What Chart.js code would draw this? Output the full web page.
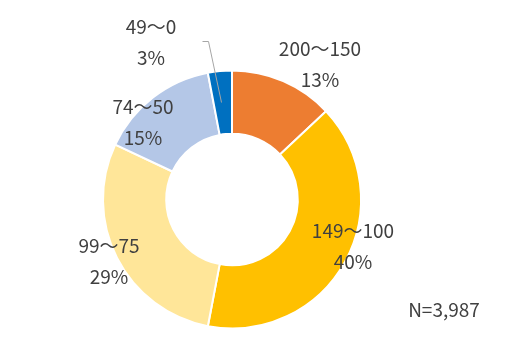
<!DOCTYPE html>
<html>
<head>
<meta charset="utf-8">
<script src="https://cdn.jsdelivr.net/npm/chart.js@4/dist/chart.umd.min.js"></script>
<style>
  html, body { margin: 0; padding: 0; background: #ffffff; }
  #wrap { width: 509px; height: 345px; position: relative; }
</style>
</head>
<body>
<div id="wrap"><canvas id="c" width="509" height="345"></canvas></div>
<script>
// Score bands and their share of respondents (%)
const categories = ['200～150', '149～100', '99～75', '74～50', '49～0'];
const shares = [13, 40, 29, 15, 3];
const sliceColors = ['#ED7D31', '#FFC000', '#FFE699', '#B4C7E7', '#0070C0'];
const sampleNote = 'N=3,987';

// Label placement, in pixels relative to the doughnut centre (first line of each label)
const labelOffsets = [[88, -150.5], [121, 31.5], [-123, 46.5], [-89, -92.5], [-81, -172.5]];
const lineGap = 31;
// Leader line for the smallest slice, relative to the centre
const leader = [[-30, -158.5], [-24, -158.5], [-11.5, -97.5]];

const labelPlugin = {
  id: 'sliceLabels',
  afterDatasetsDraw(chart) {
    const ctx = chart.ctx;
    const arc = chart.getDatasetMeta(0).data[0];
    const cx = arc.x, cy = arc.y;
    ctx.save();
    // leader line
    ctx.strokeStyle = '#A6A6A6';
    ctx.lineWidth = 1;
    ctx.beginPath();
    leader.forEach(([dx, dy], i) => {
      const px = Math.round(cx + dx) + 0.5, py = Math.round(cy + dy) + 0.5;
      if (i === 0) ctx.moveTo(px, py); else ctx.lineTo(px, py);
    });
    ctx.stroke();

    ctx.fillStyle = '#404040';
    ctx.font = '19px "Noto Sans CJK JP", "Noto Sans", sans-serif';
    ctx.textAlign = 'center';
    ctx.textBaseline = 'middle';
    categories.forEach((cat, i) => {
      const [dx, dy] = labelOffsets[i];
      ctx.fillText(cat, cx + dx, cy + dy);
      ctx.fillText(shares[i] + '%', cx + dx, cy + dy + lineGap);
    });
    ctx.fillText(sampleNote, 444, 310);
    ctx.restore();
  }
};

new Chart(document.getElementById('c'), {
  type: 'doughnut',
  data: {
    labels: categories,
    datasets: [{
      data: shares,
      backgroundColor: sliceColors,
      borderColor: '#ffffff',
      borderWidth: 2
    }]
  },
  options: {
    responsive: false,
    animation: false,
    cutout: '51%',
    rotation: 0,
    layout: { padding: { left: 102, right: 147, top: 69.5, bottom: 15.5 } },
    plugins: {
      legend: { display: false },
      tooltip: { enabled: false }
    }
  },
  plugins: [labelPlugin]
});
</script>
</body>
</html>
